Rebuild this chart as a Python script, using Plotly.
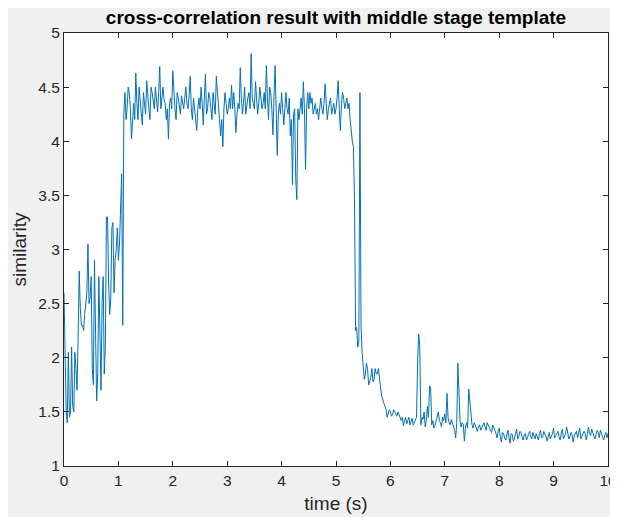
import numpy as np
import plotly.graph_objects as go

# sample period of the similarity signal (s)
dt = 0.02

# similarity values, samples at even multiples of 0.02 s (0 s .. 10 s)
sim_0 = [2.6, 1.5, 2.05, 1.5, 1.55, 2.05, 1.7, 2.8, 2.3, 2.25, 2.55, 3.05, 2.55,
         1.9, 2.9, 1.6, 2.75, 1.7, 2.75, 2.1, 3.3, 2.4, 3.2, 2.6, 3.0]
sim_1 = [2.9, 3.5, 2.3, 4.45, 4.3, 4.45, 4.02, 4.35, 4.63, 4.2, 4.4, 4.15, 4.35,
         4.56, 4.3, 4.5, 4.38, 4.5, 4.27, 4.69, 4.45, 4.38, 4.2, 4.02, 4.4]
sim_2 = [4.65, 4.3, 4.45, 4.32, 4.42, 4.3, 4.5, 4.3, 4.6, 4.2, 4.28, 4.1, 4.4,
         4.5, 4.15, 4.62, 4.3, 4.4, 4.2, 4.35, 4.6, 4.35, 4.05, 3.95, 4.45]
sim_3 = [4.25, 4.4, 4.52, 4.45, 4.08, 4.35, 4.68, 4.25, 4.5, 4.35, 4.45, 4.81, 4.35,
         4.55, 4.25, 4.5, 4.3, 4.45, 4.7, 4.2, 4.45, 4.06, 4.7, 3.87, 4.35]
sim_4 = [4.45, 4.15, 4.45, 4.25, 4.05, 3.6, 4.3, 3.46, 4.2, 4.4, 4.55, 3.74, 4.45,
         4.45, 4.4, 4.3, 4.25, 4.2, 4.4, 4.25, 4.53, 4.2, 4.35, 4.25, 4.35]
sim_5 = [4.3, 4.56, 4.1, 4.45, 4.3, 4.4, 4.35, 4.05, 3.95, 2.25, 2.1, 4.45, 2.05,
         1.8, 1.95, 1.75, 1.82, 1.78, 1.9, 1.85, 1.78, 1.65, 1.58, 1.52, 1.48]
sim_6 = [1.5, 1.48, 1.5, 1.46, 1.47, 1.42, 1.37, 1.45, 1.43, 1.38, 1.44, 1.4, 1.45,
         2.22, 1.38, 1.43, 1.36, 1.55, 1.74, 1.38, 1.35, 1.41, 1.5, 1.4, 1.45]
sim_7 = [1.48, 1.67, 1.4, 1.43, 1.38, 1.26, 1.95, 1.42, 1.4, 1.23, 1.4, 1.71, 1.45,
         1.35, 1.38, 1.32, 1.38, 1.35, 1.4, 1.33, 1.38, 1.34, 1.38, 1.33, 1.26]
sim_8 = [1.35, 1.22, 1.3, 1.24, 1.33, 1.21, 1.29, 1.25, 1.34, 1.27, 1.31, 1.24, 1.3,
         1.26, 1.32, 1.25, 1.28, 1.3, 1.24, 1.33, 1.27, 1.3, 1.23, 1.31, 1.27]
sim_9 = [1.35, 1.28, 1.32, 1.24, 1.34, 1.28, 1.36, 1.25, 1.31, 1.22, 1.3, 1.26, 1.35,
         1.27, 1.32, 1.24, 1.36, 1.28, 1.31, 1.25, 1.33, 1.26, 1.29, 1.24, 1.31, 1.3]

# in-between samples (odd multiples of 0.02 s)
mid_0 = [2.1, 1.4, 1.45, 2.1, 1.5, 1.9, 2.2, 2.45, 2.3, 2.4, 2.6, 2.5, 2.75,
         1.75, 2.35, 1.85, 2.25, 2.5, 1.85, 3.3, 2.7, 2.55, 3.25, 2.9, 3.2]
mid_1 = [3.05, 3.7, 4.25, 4.2, 4.5, 4.3, 4.25, 4.2, 4.35, 4.5, 4.25, 4.45, 4.25,
         4.4, 4.2, 4.45, 4.3, 4.4, 4.45, 4.3, 4.5, 4.35, 4.3, 4.35, 4.3]
mid_2 = [4.4, 4.2, 4.4, 4.25, 4.35, 4.4, 4.35, 4.42, 4.3, 4.4, 4.22, 4.3, 4.3,
         4.35, 4.4, 4.25, 4.45, 4.3, 4.45, 4.25, 4.45, 4.25, 4.2, 4.3, 4.35]
mid_3 = [4.3, 4.3, 4.3, 4.3, 4.25, 4.3, 4.4, 4.35, 4.25, 4.4, 4.3, 4.4, 4.3,
         4.4, 4.35, 4.4, 4.35, 4.3, 4.4, 4.5, 4.3, 4.4, 4.3, 4.25, 4.25]
mid_4 = [4.3, 4.3, 4.3, 4.4, 4.2, 4.25, 3.65, 4.3, 4.3, 4.25, 4.3, 4.3, 4.3,
         4.35, 4.25, 4.35, 4.3, 4.3, 4.3, 4.35, 4.35, 4.3, 4.4, 4.3, 4.25]
mid_5 = [4.4, 4.3, 4.35, 4.4, 4.35, 4.3, 4.2, 4.0, 3.47, 2.28, 2.15, 2.3, 1.9,
         1.85, 1.9, 1.78, 1.9, 1.8, 1.85, 1.9, 1.72, 1.6, 1.55, 1.45, 1.52]
mid_6 = [1.46, 1.52, 1.47, 1.5, 1.43, 1.45, 1.42, 1.39, 1.45, 1.41, 1.38, 1.42, 1.95,
         2.1, 1.45, 1.5, 1.42, 1.45, 1.72, 1.42, 1.38, 1.45, 1.42, 1.36, 1.42]
mid_7 = [1.4, 1.45, 1.38, 1.4, 1.33, 1.4, 1.55, 1.36, 1.38, 1.36, 1.35, 1.6, 1.38,
         1.4, 1.35, 1.37, 1.33, 1.37, 1.36, 1.4, 1.35, 1.31, 1.36, 1.3, 1.32]
mid_8 = [1.27, 1.31, 1.26, 1.29, 1.26, 1.3, 1.23, 1.3, 1.25, 1.32, 1.27, 1.29, 1.24,
         1.3, 1.27, 1.31, 1.25, 1.27, 1.3, 1.26, 1.32, 1.27, 1.29, 1.25, 1.3]
mid_9 = [1.26, 1.3, 1.27, 1.3, 1.25, 1.3, 1.3, 1.27, 1.29, 1.28, 1.32, 1.3, 1.25,
         1.29, 1.3, 1.29, 1.3, 1.34, 1.28, 1.29, 1.31, 1.33, 1.27, 1.28, 1.26]

main_parts = [sim_0, sim_1, sim_2, sim_3, sim_4, sim_5, sim_6, sim_7, sim_8, sim_9]
mid_parts = [mid_0, mid_1, mid_2, mid_3, mid_4, mid_5, mid_6, mid_7, mid_8, mid_9]

similarity = []
for main, mid in zip(main_parts, mid_parts):
    for i, v in enumerate(main):
        similarity.append(v)
        if i < len(mid):
            similarity.append(mid[i])
time_s = np.arange(len(similarity)) * dt

x_ticks = [0, 1, 2, 3, 4, 5, 6, 7, 8, 9, 10]
y_ticks = [1, 1.5, 2, 2.5, 3, 3.5, 4, 4.5, 5]
y_tick_text = ["1", "1.5", "2", "2.5", "3", "3.5", "4", "4.5", "5"]

title_text = "cross-correlation result with middle stage template"
x_title = "time (s)"
y_title = "similarity"

axis_color = "#262626"
font_family = "Liberation Sans, Arial, Helvetica, sans-serif"

fig = go.Figure()
fig.add_trace(go.Scatter(
    x=time_s, y=similarity, mode="lines",
    line=dict(color="#0072BD", width=1),
    showlegend=False, hoverinfo="x+y",
))

axis_common = dict(
    showgrid=False, zeroline=False, showline=True, linecolor=axis_color,
    linewidth=1, mirror="allticks", ticks="inside", ticklen=5,
    tickcolor=axis_color, tickwidth=1, automargin=False,
    tickfont=dict(family=font_family, size=15.5, color=axis_color),
)

# the page body adds an 8 px offset; figure sized to fill the rest of the window
fig.update_layout(
    width=610, height=509,
    margin=dict(l=56, r=10, t=25, b=51, autoexpand=False),
    paper_bgcolor="#f0f0f0", plot_bgcolor="white",
    title=dict(text="<b>" + title_text + "</b>", x=328 / 610, xanchor="center",
               y=1 - 9 / 509, yanchor="middle",
               font=dict(family=font_family, size=19, color="black")),
    xaxis=dict(range=[0, 10], tickvals=x_ticks,
               title=dict(text=x_title, standoff=9,
                          font=dict(family=font_family, size=19, color=axis_color)),
               **axis_common),
    yaxis=dict(range=[1, 5], tickvals=y_ticks, ticktext=y_tick_text,
               title=dict(text=y_title, standoff=6,
                          font=dict(family=font_family, size=19, color=axis_color)),
               **axis_common),
)

fig.write_html("out.html")
